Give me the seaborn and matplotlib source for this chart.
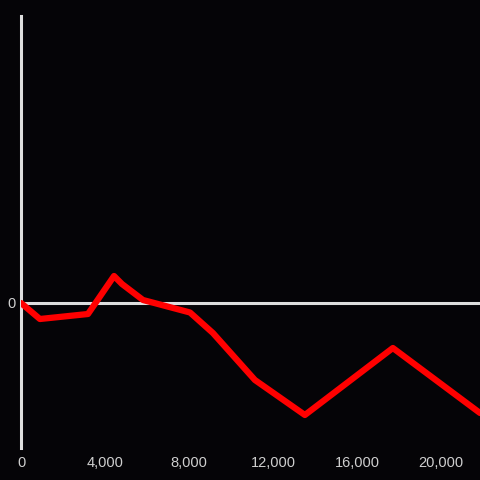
import matplotlib
matplotlib.use("Agg")
import matplotlib.pyplot as plt
import seaborn as sns
import pandas as pd

x_values = [0, 900, 3190, 4430, 4810, 5810, 8050, 9140, 11140, 13520, 17710, 21860]
y_values = [0, -16, -11, 27, 19, 3, -9.5, -30, -77, -112, -45, -110]
x_ticks = [0, 4000, 8000, 12000, 16000, 20000]
x_tick_labels = ["0", "4,000", "8,000", "12,000", "16,000", "20,000"]
y_ticks = [0]
y_tick_labels = ["0"]

bg = "#050407"
axis_col = "#dedede"
text_col = "#cfcfcf"

sns.set_style("dark")
plt.rcParams['font.family'] = ['Liberation Sans', 'DejaVu Sans']

fig = plt.figure(figsize=(4.8, 4.8), dpi=100, facecolor=bg)
ax = fig.add_axes([21/480, 1 - 448/480, 1 - 21/480, (448 - 16)/480])
ax.set_facecolor(bg)

df = pd.DataFrame({"x": x_values, "y": y_values})
ax.axhline(0, color=axis_col, lw=2.2, zorder=1)
sns.lineplot(data=df, x="x", y="y", ax=ax, color="#ff0000", lw=4.5, zorder=3)

ax.set_xlim(0, 21860)
ax.set_ylim(-145, 287)
ax.set_xticks(x_ticks)
ax.set_xticklabels(x_tick_labels)
ax.set_yticks(y_ticks)
ax.set_yticklabels(y_tick_labels)
ax.tick_params(axis="both", length=0, colors=text_col, labelsize=10.5)
ax.tick_params(axis="x", pad=6)
ax.tick_params(axis="y", pad=4)
ax.grid(False)
ax.set_xlabel("")
ax.set_ylabel("")
for s in ["top", "right", "bottom"]:
    ax.spines[s].set_visible(False)
ax.spines["left"].set_color(axis_col)
ax.spines["left"].set_linewidth(2.2)

fig.savefig("out.png", dpi=100, facecolor=bg)
